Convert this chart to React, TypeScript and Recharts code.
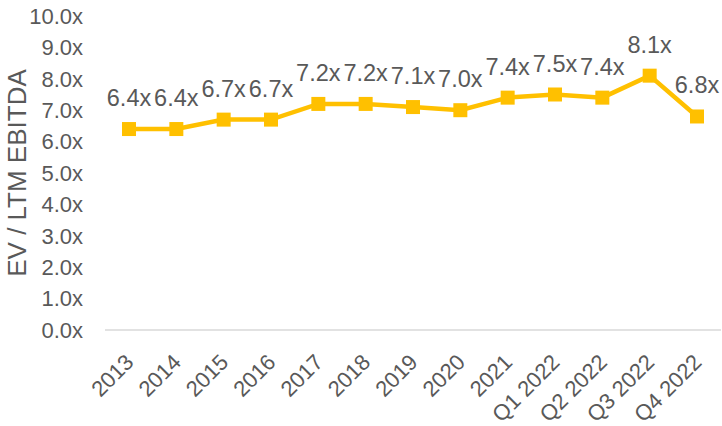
import { LineChart, Line, XAxis, YAxis, LabelList } from 'recharts'

const categories = ['2013', '2014', '2015', '2016', '2017', '2018', '2019', '2020', '2021', 'Q1 2022', 'Q2 2022', 'Q3 2022', 'Q4 2022']
const multiples = [6.4, 6.4, 6.7, 6.7, 7.2, 7.2, 7.1, 7.0, 7.4, 7.5, 7.4, 8.1, 6.8]
const yTicks = [0, 1, 2, 3, 4, 5, 6, 7, 8, 9, 10]

const data = categories.map((period, i) => ({ period, value: multiples[i] }))

const FONT = '"Liberation Sans", Arial, sans-serif'
const GRAY = '#595959'
const GOLD = '#FFC000'

const SquareDot = (props: any) => {
  const { cx, cy } = props
  if (cx == null || cy == null) return null
  return <rect x={cx - 7} y={cy - 7} width={14} height={14} fill={GOLD} />
}

const XTick = (props: any) => {
  const { x, y, payload } = props
  return (
    <g transform={`translate(${x + 6},${y + 31.5}) rotate(-45)`}>
      <text x={0} y={0} textAnchor="end" fill={GRAY} fontSize={22} fontFamily={FONT}>
        {payload.value}
      </text>
    </g>
  )
}

export default function App() {
  return (
    <div style={{ position: 'absolute', left: 0, top: 0, width: 722, height: 426, background: '#fff' }}>
      <LineChart width={722} height={426} data={data} margin={{ top: 16, right: 1, bottom: 0, left: 0 }}>
        <XAxis
          dataKey="period"
          height={96}
          interval={0}
          padding={{ left: 24, right: 24 }}
          axisLine={{ stroke: '#D9D9D9', strokeWidth: 1.5 }}
          tickLine={false}
          tickSize={0}
          tick={<XTick />}
        />
        <YAxis
          width={105}
          domain={[0, 10]}
          ticks={yTicks}
          interval={0}
          axisLine={false}
          tickLine={false}
          tickSize={0}
          tickMargin={22}
          tickFormatter={(v: number) => `${v.toFixed(1)}x`}
          tick={{ fill: GRAY, fontSize: 22, fontFamily: FONT }}
          label={{
            value: 'EV / LTM EBITDA',
            angle: -90,
            position: 'insideLeft',
            offset: 0,
            dx: 17,
            style: { fill: GRAY, fontSize: 26, fontFamily: FONT, textAnchor: 'middle' },
          }}
        />
        <Line
          type="linear"
          dataKey="value"
          stroke={GOLD}
          strokeWidth={4.5}
          dot={<SquareDot />}
          activeDot={false}
          isAnimationActive={false}
        >
          <LabelList
            dataKey="value"
            position="top"
            offset={23}
            formatter={(v: number) => `${v.toFixed(1)}x`}
            style={{ fill: GRAY, fontSize: 23.5, fontFamily: FONT }}
          />
        </Line>
      </LineChart>
    </div>
  )
}
